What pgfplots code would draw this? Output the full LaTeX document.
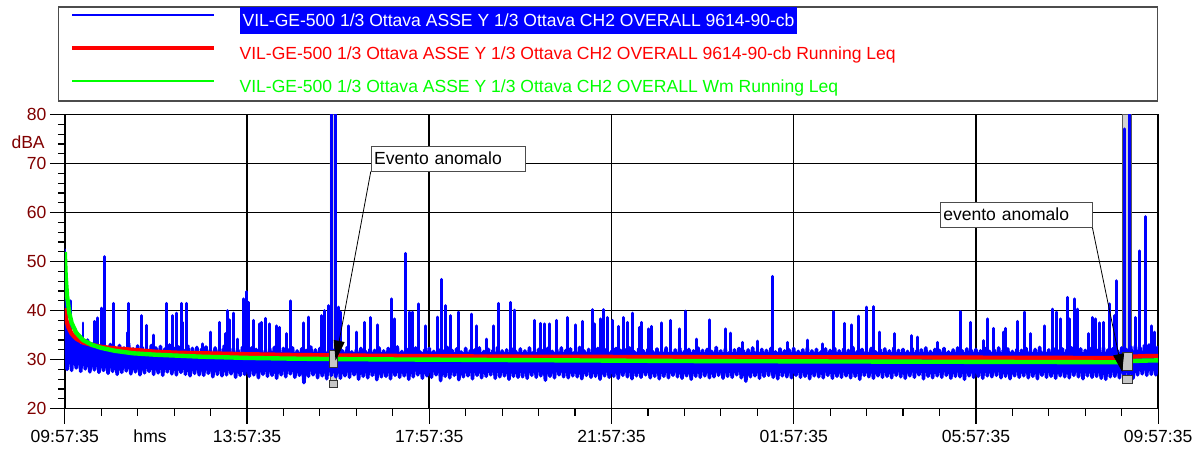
\documentclass[border=0pt]{standalone}
\usepackage{fontspec}
\setmainfont{Liberation Sans}
\usepackage{pgfplots}
\usepackage{pgfplotstable}
\pgfplotsset{compat=1.18}
\usetikzlibrary{arrows.meta}

\definecolor{lblue}{RGB}{0,0,255}
\definecolor{lred}{RGB}{255,0,0}
\definecolor{lgreen}{RGB}{0,255,0}
\definecolor{darkred}{RGB}{128,0,0}

% dense noise band, one value every 0.05 h (3 min) from 09:57:35
\pgfplotstableread[row sep=\\]{
y\\
40\\ 28.0\\ 36.5\\ 27.8\\ 35.0\\ 28.3\\ 34.2\\ 27.6\\ 33.8\\ 28.1\\ 34.0\\ 27.5\\ 33.2\\ 27.9\\ 33.5\\ 27.4\\ 33.0\\ 27.8\\ 32.6\\ 27.2\\
33.1\\ 27.6\\ 32.5\\ 27.0\\ 32.9\\ 27.4\\ 32.4\\ 27.7\\ 33.3\\ 27.1\\ 32.2\\ 27.5\\ 32.8\\ 26.9\\ 32.5\\ 27.3\\ 32.1\\ 27.6\\ 32.9\\ 27.0\\
32.4\\ 27.3\\ 32.7\\ 26.8\\ 32.2\\ 27.5\\ 33.0\\ 27.1\\ 32.3\\ 26.9\\ 32.6\\ 27.4\\ 32.0\\ 27.0\\ 32.8\\ 26.7\\ 32.3\\ 27.2\\ 32.5\\ 26.9\\
32.1\\ 26.8\\ 32.6\\ 27.2\\ 31.9\\ 26.5\\ 32.4\\ 27.0\\ 32.2\\ 26.7\\ 32.8\\ 26.9\\ 31.8\\ 27.1\\ 32.3\\ 26.4\\ 32.0\\ 26.8\\ 32.5\\ 27.0\\
31.9\\ 26.6\\ 32.4\\ 26.9\\ 32.1\\ 26.3\\ 32.7\\ 27.0\\ 31.8\\ 26.6\\ 32.2\\ 26.8\\ 32.5\\ 26.2\\ 31.9\\ 26.9\\ 32.3\\ 26.5\\ 32.0\\ 27.1\\
32.4\\ 26.4\\ 31.8\\ 26.8\\ 32.2\\ 25.3\\ 31.9\\ 26.6\\ 32.6\\ 26.9\\ 32.0\\ 26.3\\ 32.3\\ 26.7\\ 31.7\\ 26.1\\ 32.4\\ 26.8\\ 31.9\\ 26.5\\
32.2\\ 26.2\\ 31.8\\ 26.7\\ 32.5\\ 26.4\\ 31.6\\ 26.9\\ 32.0\\ 26.0\\ 32.3\\ 26.6\\ 31.7\\ 26.3\\ 32.1\\ 26.8\\ 31.9\\ 25.9\\ 32.4\\ 26.5\\
31.8\\ 26.6\\ 32.3\\ 26.1\\ 31.9\\ 26.8\\ 32.6\\ 26.4\\ 31.7\\ 26.7\\ 32.2\\ 26.0\\ 31.9\\ 26.5\\ 32.4\\ 26.9\\ 31.6\\ 26.2\\ 32.0\\ 26.7\\
32.3\\ 26.4\\ 31.7\\ 26.9\\ 32.1\\ 25.7\\ 31.8\\ 26.6\\ 32.5\\ 26.3\\ 31.9\\ 26.8\\ 32.2\\ 25.9\\ 31.6\\ 26.5\\ 32.3\\ 26.7\\ 31.8\\ 26.1\\
32.0\\ 26.8\\ 32.4\\ 26.3\\ 31.7\\ 26.6\\ 32.1\\ 26.9\\ 31.9\\ 26.2\\ 32.5\\ 26.5\\ 31.8\\ 26.7\\ 32.0\\ 26.0\\ 32.3\\ 26.6\\ 31.7\\ 26.4\\
32.2\\ 26.5\\ 31.8\\ 26.2\\ 32.4\\ 26.8\\ 31.6\\ 26.4\\ 32.1\\ 26.7\\ 31.9\\ 25.8\\ 32.3\\ 26.6\\ 31.7\\ 26.3\\ 32.0\\ 26.9\\ 32.4\\ 26.5\\
31.9\\ 26.3\\ 32.2\\ 26.7\\ 31.6\\ 26.5\\ 32.5\\ 26.1\\ 31.8\\ 26.8\\ 32.1\\ 26.4\\ 31.7\\ 26.6\\ 32.3\\ 26.0\\ 31.9\\ 26.7\\ 32.2\\ 26.4\\
31.7\\ 26.6\\ 32.3\\ 26.2\\ 31.9\\ 26.8\\ 32.0\\ 26.5\\ 32.4\\ 26.1\\ 31.6\\ 26.7\\ 32.2\\ 26.4\\ 31.8\\ 26.9\\ 32.1\\ 26.3\\ 31.7\\ 26.6\\
32.2\\ 26.1\\ 31.8\\ 26.6\\ 32.4\\ 26.3\\ 31.6\\ 26.8\\ 32.0\\ 26.5\\ 32.3\\ 26.2\\ 31.7\\ 26.7\\ 32.1\\ 26.0\\ 31.8\\ 26.6\\ 32.4\\ 26.4\\
31.9\\ 26.7\\ 32.1\\ 26.3\\ 31.7\\ 26.5\\ 32.5\\ 26.8\\ 31.8\\ 26.2\\ 32.2\\ 26.6\\ 31.6\\ 26.4\\ 32.0\\ 26.9\\ 32.3\\ 26.3\\ 31.8\\ 25.6\\
32.0\\ 26.5\\ 32.4\\ 26.7\\ 31.7\\ 26.2\\ 32.1\\ 26.6\\ 31.9\\ 26.8\\ 32.3\\ 26.4\\ 31.6\\ 26.1\\ 32.2\\ 26.7\\ 31.8\\ 26.5\\ 32.0\\ 26.3\\
32.3\\ 26.8\\ 31.7\\ 26.4\\ 32.0\\ 26.6\\ 32.4\\ 26.1\\ 31.8\\ 26.7\\ 32.1\\ 26.5\\ 31.6\\ 26.3\\ 32.2\\ 26.8\\ 31.9\\ 26.2\\ 32.3\\ 26.6\\
31.8\\ 26.4\\ 32.2\\ 26.7\\ 31.9\\ 26.3\\ 32.5\\ 26.6\\ 31.7\\ 26.0\\ 32.1\\ 26.8\\ 31.8\\ 26.5\\ 32.3\\ 26.2\\ 31.6\\ 26.7\\ 32.0\\ 26.4\\
32.2\\ 26.6\\ 31.8\\ 26.3\\ 32.4\\ 26.8\\ 31.9\\ 26.5\\ 32.1\\ 26.2\\ 31.7\\ 26.7\\ 32.3\\ 26.4\\ 31.8\\ 26.9\\ 32.0\\ 26.1\\ 32.4\\ 26.6\\
31.7\\ 26.3\\ 32.1\\ 26.7\\ 31.9\\ 26.4\\ 32.3\\ 26.8\\ 31.6\\ 26.2\\ 32.0\\ 26.6\\ 32.4\\ 26.5\\ 31.8\\ 26.0\\ 32.2\\ 26.7\\ 31.9\\ 26.4\\
32.1\\ 26.6\\ 31.8\\ 26.2\\ 32.3\\ 26.7\\ 31.7\\ 26.5\\ 32.0\\ 26.8\\ 32.4\\ 26.3\\ 31.9\\ 26.6\\ 32.2\\ 26.1\\ 31.7\\ 26.7\\ 32.1\\ 26.4\\
31.9\\ 26.7\\ 32.3\\ 26.3\\ 31.8\\ 26.6\\ 32.1\\ 26.1\\ 32.5\\ 26.8\\ 31.7\\ 26.4\\ 32.0\\ 26.6\\ 32.3\\ 26.2\\ 31.8\\ 26.7\\ 32.2\\ 26.5\\
32.0\\ 26.3\\ 32.4\\ 26.8\\ 31.8\\ 26.5\\ 32.2\\ 26.1\\ 31.9\\ 26.7\\ 32.3\\ 26.4\\ 31.7\\ 26.6\\ 32.1\\ 26.2\\ 32.4\\ 26.0\\ 32.0\\ 26.5\\
32.2\\ 26.6\\ 31.9\\ 26.3\\ 32.4\\ 26.8\\ 32.1\\ 26.0\\ 32.6\\ 26.2\\ 32.8\\ 26.9\\ 32.5\\ 27.1\\ 32.9\\ 26.8\\ 33.0\\ 27.0\\ 32.6\\ 26.9\\
32.8\\
}\band

\setlength{\fboxsep}{1.5pt}

\begin{document}
\fontsize{8.8}{10.5}\selectfont
\begin{tikzpicture}
\begin{axis}[
    at={(0,0)}, anchor=south west,
    scale only axis, width=548.5pt, height=147.5pt,
    xmin=0, xmax=24, ymin=20, ymax=80,
    xtick={0,4,...,24},
    xticklabels={09:57:35,13:57:35,17:57:35,21:57:35,01:57:35,05:57:35,09:57:35},
    ytick={20,30,...,80},
    minor x tick num=4, minor y tick num=4,
    tick align=outside, tick pos=left,
    major tick length=7.5pt, minor tick length=3.5pt,
    every tick/.style={black, line width=0.6pt},
    grid=major, major grid style={black, line width=0.75pt},
    axis line style={black, line width=0.8pt},
    yticklabel style={text=darkred, inner xsep=1.5pt},
    xticklabel style={inner xsep=0pt},
    /pgf/number format/assume math mode=true,
    clip mode=individual,
    legend cell align=left,
    legend image code/.code={\draw[#1] (0pt,3pt) -- (71pt,3pt);},
    legend style={at={(axis description cs:0,1)}, anchor=south west,
        xshift=-3.5pt, yshift=6.5pt, draw=black!70, line width=0.8pt,
        inner xsep=6pt, inner ysep=0pt, column sep=12pt, row sep=2.5pt,
        nodes={inner sep=0pt, text height=9.7pt, text depth=4.3pt}},
]
% cursor bars of the two marked events
\addplot[forget plot, fill=gray!35, draw=gray!70!black, line width=0.4pt]
    coordinates {(5.82,24.4) (5.97,24.4) (5.97,80) (5.82,80) (5.82,24.4)};
\addplot[forget plot, fill=gray!35, draw=gray!70!black, line width=0.4pt]
    coordinates {(23.216,25.1) (23.42,25.1) (23.42,80) (23.216,80) (23.216,25.1)};

\addplot[lblue, line width=1.8pt, line join=round,
    legend image post style={line width=1.1pt}]
    table[x expr=\coordindex*0.05, y=y] {\band};
\addlegendentry{\colorbox{lblue}{\rule[-2.1pt]{0pt}{10.3pt}\textcolor{white}{VIL-GE-500 1/3 Ottava ASSE Y 1/3 Ottava CH2 OVERALL 9614-90-cb}}}

% isolated peaks of the same signal
\addplot[forget plot, lblue, line width=1.5pt, line join=round] coordinates {
(0,31.2)(0,52.5)(0,31.2) (0.033,31.2)(0.033,45)(0.033,31.2) (0.125,31.2)(0.125,42)(0.125,31.2)
(0.400,31.2)(0.400,37.5)(0.400,31.2) (0.656,31.2)(0.656,37.8)(0.656,31.2) (0.729,31.2)(0.729,38.5)(0.729,31.2)
(0.803,31.2)(0.803,40.5)(0.803,31.2) (0.875,31.2)(0.875,51)(0.875,31.2) (1.079,31.2)(1.079,41.5)(1.079,31.2)
(1.372,31.2)(1.372,35.5)(1.372,31.2) (1.407,31.2)(1.407,41.5)(1.407,31.2) (1.680,31.2)(1.680,39)(1.680,31.2)
(1.787,31.2)(1.787,37)(1.787,31.2) (1.947,31.2)(1.947,35)(1.947,31.2) (2.225,31.2)(2.225,41.5)(2.225,31.2)
(2.369,31.2)(2.369,39)(2.369,31.2) (2.444,31.2)(2.444,39.5)(2.444,31.2) (2.553,31.2)(2.553,41.5)(2.553,31.2)
(2.588,31.2)(2.588,37.6)(2.588,31.2) (2.663,31.2)(2.663,41.5)(2.663,31.2) (3.026,31.2)(3.026,33.2)(3.026,31.2)
(3.188,31.2)(3.188,35.6)(3.188,31.2) (3.391,31.2)(3.391,37.6)(3.391,31.2) (3.522,31.2)(3.522,35.3)(3.522,31.2)
(3.573,31.2)(3.573,40)(3.573,31.2) (3.625,31.2)(3.625,38.1)(3.625,31.2) (3.697,31.2)(3.697,39.5)(3.697,31.2)
(3.791,31.2)(3.791,34.2)(3.791,31.2) (3.916,31.2)(3.916,42.4)(3.916,31.2) (3.988,31.2)(3.988,43.9)(3.988,31.2)
(4.032,31.2)(4.032,41.7)(4.032,31.2) (4.135,31.2)(4.135,38)(4.135,31.2) (4.266,31.2)(4.266,37.3)(4.266,31.2)
(4.325,31.2)(4.325,37.6)(4.325,31.2) (4.413,31.2)(4.413,38.4)(4.413,31.2) (4.500,31.2)(4.500,37.3)(4.500,31.2)
(4.645,31.2)(4.645,36.9)(4.645,31.2) (4.719,31.2)(4.719,36.6)(4.719,31.2) (4.863,31.2)(4.863,35.3)(4.863,31.2)
(4.944,31.2)(4.944,42)(4.944,31.2) (5.250,31.2)(5.250,37.5)(5.250,31.2) (5.360,31.2)(5.360,38.7)(5.360,31.2)
(5.638,31.2)(5.638,39)(5.638,31.2) (5.710,31.2)(5.710,40)(5.710,31.2) (5.782,31.2)(5.782,41)(5.782,31.2)
(5.852,31.2)(5.852,95)(5.852,31.2) (5.940,31.2)(5.940,95)(5.940,31.2) (6.001,31.2)(6.001,40.7)(6.001,31.2)
(6.054,31.2)(6.054,39.7)(6.054,31.2) (6.220,31.2)(6.220,36.9)(6.220,31.2) (6.395,31.2)(6.395,35.6)(6.395,31.2)
(6.585,31.2)(6.585,37.6)(6.585,31.2) (6.710,31.2)(6.710,38.6)(6.710,31.2) (6.854,31.2)(6.854,37.1)(6.854,31.2)
(7.169,31.2)(7.169,42.4)(7.169,31.2) (7.242,31.2)(7.242,38.3)(7.242,31.2) (7.476,31.2)(7.476,51.7)(7.476,31.2)
(7.563,31.2)(7.563,39.7)(7.563,31.2) (7.635,31.2)(7.635,39.7)(7.635,31.2) (7.767,31.2)(7.767,41.4)(7.767,31.2)
(7.913,31.2)(7.913,36.9)(7.913,31.2) (8.189,31.2)(8.189,38.7)(8.189,31.2) (8.276,31.2)(8.276,46.4)(8.276,31.2)
(8.351,31.2)(8.351,41)(8.351,31.2) (8.460,31.2)(8.460,39)(8.460,31.2) (8.642,31.2)(8.642,39.7)(8.642,31.2)
(8.919,31.2)(8.919,39.3)(8.919,31.2) (9.042,31.2)(9.042,36.9)(9.042,31.2) (9.261,31.2)(9.261,34.2)(9.261,31.2)
(9.407,31.2)(9.407,36.9)(9.407,31.2) (9.517,31.2)(9.517,41.5)(9.517,31.2) (9.773,31.2)(9.773,41.7)(9.773,31.2)
(9.867,31.2)(9.867,40.1)(9.867,31.2) (10.305,31.2)(10.305,38)(10.305,31.2) (10.451,31.2)(10.451,37.4)(10.451,31.2)
(10.539,31.2)(10.539,37.3)(10.539,31.2) (10.648,31.2)(10.648,37.3)(10.648,31.2) (10.792,31.2)(10.792,38)(10.792,31.2)
(11.033,31.2)(11.033,38.6)(11.033,31.2) (11.208,31.2)(11.208,37.1)(11.208,31.2) (11.355,31.2)(11.355,37.8)(11.355,31.2)
(11.573,31.2)(11.573,40.2)(11.573,31.2) (11.632,31.2)(11.632,37.3)(11.632,31.2) (11.755,31.2)(11.755,38.3)(11.755,31.2)
(11.836,31.2)(11.836,40.2)(11.836,31.2) (11.923,31.2)(11.923,38.6)(11.923,31.2) (12.033,31.2)(12.033,38)(12.033,31.2)
(12.158,31.2)(12.158,36.8)(12.158,31.2) (12.267,31.2)(12.267,38.6)(12.267,31.2) (12.361,31.2)(12.361,37.6)(12.361,31.2)
(12.470,31.2)(12.470,39.5)(12.470,31.2) (12.617,31.2)(12.617,36.6)(12.617,31.2) (12.667,31.2)(12.667,37.6)(12.667,31.2)
(12.814,31.2)(12.814,36.3)(12.814,31.2) (12.886,31.2)(12.886,36.8)(12.886,31.2) (13.090,31.2)(13.090,37.5)(13.090,31.2)
(13.286,31.2)(13.286,38)(13.286,31.2) (13.492,31.2)(13.492,36.3)(13.492,31.2) (13.636,31.2)(13.636,39.9)(13.636,31.2)
(13.877,31.2)(13.877,34.2)(13.877,31.2) (14.148,31.2)(14.148,38.1)(14.148,31.2) (14.512,31.2)(14.512,36.3)(14.512,31.2)
(14.621,31.2)(14.621,35.4)(14.621,31.2) (14.877,31.2)(14.877,33.5)(14.877,31.2) (15.205,31.2)(15.205,33.8)(15.205,31.2)
(15.540,31.2)(15.540,47)(15.540,31.2) (15.862,31.2)(15.862,33.5)(15.862,31.2) (16.299,31.2)(16.299,34)(16.299,31.2)
(16.627,31.2)(16.627,33.2)(16.627,31.2) (16.868,31.2)(16.868,39.8)(16.868,31.2) (17.115,31.2)(17.115,37.4)(17.115,31.2)
(17.262,31.2)(17.262,37.1)(17.262,31.2) (17.430,31.2)(17.430,38.9)(17.430,31.2) (17.597,31.2)(17.597,40.7)(17.597,31.2)
(17.743,31.2)(17.743,40.8)(17.743,31.2) (17.890,31.2)(17.890,35.6)(17.890,31.2) (18.209,31.2)(18.209,35.3)(18.209,31.2)
(18.596,31.2)(18.596,34.9)(18.596,31.2) (18.721,31.2)(18.721,34.6)(18.721,31.2) (19.159,31.2)(19.159,33.5)(19.159,31.2)
(19.653,31.2)(19.653,39.8)(19.653,31.2) (19.887,31.2)(19.887,37.6)(19.887,31.2) (20.171,31.2)(20.171,33.9)(20.171,31.2)
(20.259,31.2)(20.259,38.3)(20.259,31.2) (20.383,31.2)(20.383,36.4)(20.383,31.2) (20.615,31.2)(20.615,35.6)(20.615,31.2)
(20.659,31.2)(20.659,36.4)(20.659,31.2) (20.908,31.2)(20.908,37.8)(20.908,31.2) (21.075,31.2)(21.075,39.7)(21.075,31.2)
(21.200,31.2)(21.200,35.3)(21.200,31.2) (21.512,31.2)(21.512,36.9)(21.512,31.2) (21.674,31.2)(21.674,40.3)(21.674,31.2)
(21.768,31.2)(21.768,39.7)(21.768,31.2) (21.856,31.2)(21.856,38.3)(21.856,31.2) (22.002,31.2)(22.002,42.7)(22.002,31.2)
(22.059,31.2)(22.059,38.3)(22.059,31.2) (22.169,31.2)(22.169,42.4)(22.169,31.2) (22.221,31.2)(22.221,40.3)(22.221,31.2)
(22.462,31.2)(22.462,35.3)(22.462,31.2) (22.556,31.2)(22.556,38.6)(22.556,31.2) (22.629,31.2)(22.629,38.3)(22.629,31.2)
(22.716,31.2)(22.716,37.5)(22.716,31.2) (22.790,31.2)(22.790,37.6)(22.790,31.2) (22.934,31.2)(22.934,41.4)(22.934,31.2)
(23.044,31.2)(23.044,39)(23.044,31.2) (23.081,31.2)(23.081,46.1)(23.081,31.2) (23.256,31.2)(23.256,77.1)(23.256,31.2)
(23.365,31.2)(23.365,95)(23.365,31.2) (23.503,31.2)(23.503,38.6)(23.503,31.2) (23.591,31.2)(23.591,52.2)(23.591,31.2)
(23.722,31.2)(23.722,59.2)(23.722,31.2) (23.847,31.2)(23.847,36.9)(23.847,31.2) (23.919,31.2)(23.919,35.6)(23.919,31.2)
};

\addplot[lred, line width=2.2pt, line join=round,
    legend image post style={line width=1.8pt}] coordinates {
(0,40.5) (0.03,38.2) (0.08,36.6) (0.15,35.3) (0.25,34.3) (0.4,33.5) (0.6,33.0)
(0.8,32.6) (1.1,32.3) (1.5,32.0) (2,31.6) (2.5,31.4) (3,31.3) (4,31.1)
(5,30.95) (6,30.85) (8,30.7) (10,30.6) (12,30.55) (14,30.5) (16,30.45)
(18,30.45) (20,30.4) (22,30.35) (23.3,30.3) (23.4,30.6) (23.7,30.7) (24,30.75)};
\addlegendentry{\makebox[454.5pt][l]{\textcolor{lred}{VIL-GE-500 1/3 Ottava ASSE Y 1/3 Ottava CH2 OVERALL 9614-90-cb Running Leq}}}

\addplot[lgreen, line width=2.2pt, line join=round,
    legend image post style={line width=1.4pt}] coordinates {
(0,52) (0.02,47) (0.05,43) (0.1,39.5) (0.15,37.5) (0.25,35.5) (0.4,34.0)
(0.6,33.0) (0.8,32.4) (1.1,31.8) (1.5,31.3) (2,31.0) (2.5,30.8) (3,30.6)
(4,30.35) (5,30.2) (6,30.1) (8,30.0) (10,29.9) (12,29.8) (14,29.7)
(16,29.65) (18,29.6) (20,29.55) (22,29.5) (23.3,29.45) (23.4,29.7) (23.7,29.8) (24,29.85)};
\addlegendentry{\textcolor{lgreen}{VIL-GE-500 1/3 Ottava ASSE Y 1/3 Ottava CH2 OVERALL Wm Running Leq}}

% cursor boxes
\addplot[forget plot, fill=gray!45, draw=black!80, line width=0.5pt]
    coordinates {(5.81,28.3) (5.98,28.3) (5.98,31.9) (5.81,31.9) (5.81,28.3)};
\addplot[forget plot, fill=gray!45, draw=black!80, line width=0.5pt]
    coordinates {(5.81,24.4) (5.98,24.4) (5.98,25.8) (5.81,25.8) (5.81,24.4)};
\addplot[forget plot, fill=gray!45, draw=black!80, line width=0.5pt]
    coordinates {(23.212,27.8) (23.43,27.8) (23.43,31.4) (23.212,31.4) (23.212,27.8)};
\addplot[forget plot, fill=gray!45, draw=black!80, line width=0.5pt]
    coordinates {(23.212,25.1) (23.43,25.1) (23.43,26.8) (23.212,26.8) (23.212,25.1)};

% annotations
\draw[black, line width=0.4pt, -{Triangle[length=10pt, width=5.5pt]}]
    (axis cs:6.717,68.4) -- (axis cs:5.944,29.8);
\draw[black, line width=0.4pt, -{Triangle[length=9pt, width=5.5pt]}]
    (axis cs:22.556,57.0) -- (axis cs:23.212,27.5);
\node[draw=black!70, fill=white, anchor=south west, text width=74.5pt,
    align=left, inner xsep=1.5pt, inner ysep=0pt, minimum height=12.5pt]
    at (axis cs:6.717,68.4) {Evento anomalo};
\node[draw=black!70, fill=white, anchor=south west, text width=73.5pt,
    align=left, inner xsep=1.5pt, inner ysep=0pt, minimum height=12.5pt]
    at (axis cs:19.21,57.0) {evento anomalo};

\node[anchor=east, text=darkred, inner sep=0pt] at (axis description cs:-0.018,0.906) {dBA};
\node[anchor=north, yshift=-7.5pt] at (axis description cs:0.078,0) {hms};
\end{axis}
\pgfresetboundingbox
\path[use as bounding box] (-32.5pt,-20pt) rectangle (566pt,205pt);
\end{tikzpicture}
\end{document}
